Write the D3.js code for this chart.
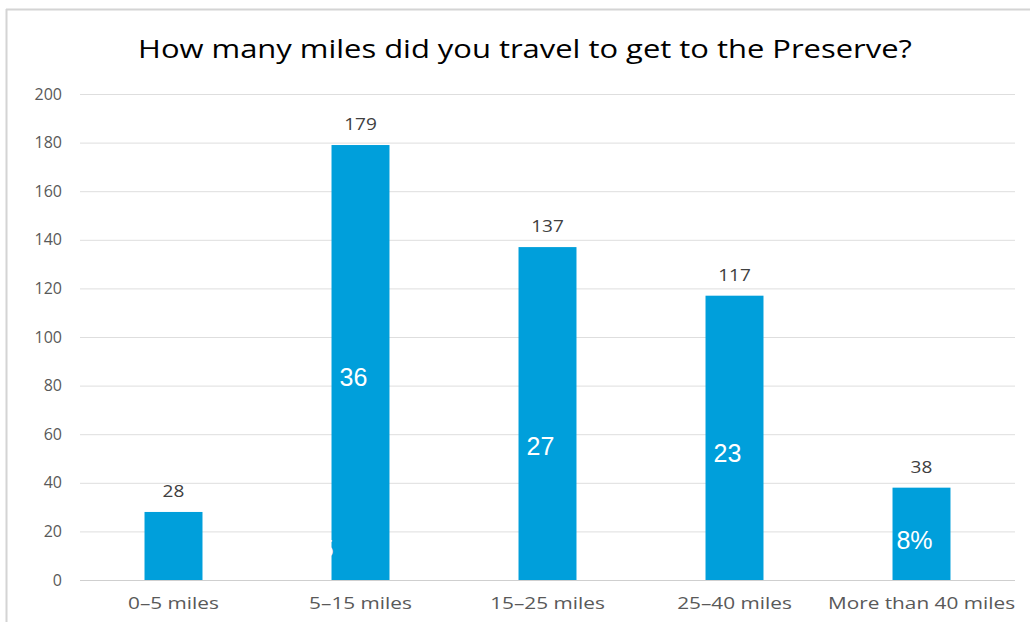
<!DOCTYPE html>
<html>
<head>
<meta charset="utf-8">
<script src="https://cdn.jsdelivr.net/npm/d3@7"></script>
<style>
  body { margin: 0; background: #fff; }
  svg { display: block; }
</style>
</head>
<body>
<svg id="chart" width="1030" height="627"></svg>
<script>
// Chart data
const categories = ['0–5 miles', '5–15 miles', '15–25 miles', '25–40 miles', 'More than 40 miles'];
const counts = [28, 179, 137, 117, 38];
// white labels drawn inside the bars, '' where none
const innerLabels = ['', '36', '27', '23', '8%'];
const innerValues = [0, 83.5, 55, 52, 16.5]; // y value where each inner label sits
const yTicks = [0, 20, 40, 60, 80, 100, 120, 140, 160, 180, 200];

const svg = d3.select('#chart');
const margin = { top: 94, right: 15, bottom: 47, left: 80 };
const width = +svg.attr('width') - margin.left - margin.right;
const height = +svg.attr('height') - margin.top - margin.bottom;

// Frame lines (top and left only, like the screenshot)
svg.append('line').attr('x1', 6).attr('x2', 1030).attr('y1', 9.5).attr('y2', 9.5)
    .attr('stroke', '#d4d4d4').attr('stroke-width', 2);
svg.append('line').attr('x1', 6.5).attr('x2', 6.5).attr('y1', 9).attr('y2', 622)
    .attr('stroke', '#d4d4d4').attr('stroke-width', 2);

const xScale = d3.scaleBand().domain(categories).range([0, width]).paddingInner(0.69).paddingOuter(0.345);
const yScale = d3.scaleLinear().domain([0, 200]).range([height, 0]);

const g = svg.append('g').attr('transform', `translate(${margin.left},${margin.top})`);

// Gridlines
g.append('g')
    .selectAll('line')
    .data(yTicks)
    .enter()
    .append('line')
    .attr('x1', 0)
    .attr('x2', width)
    .attr('y1', d => yScale(d) + 0.5)
    .attr('y2', d => yScale(d) + 0.5)
    .attr('stroke', d => d === 0 ? '#cfcfcf' : '#dedede')
    .attr('stroke-width', 1);

// Y axis labels
const yAxis = g.append('g')
    .call(d3.axisLeft(yScale).tickValues(yTicks).tickSize(0).tickPadding(18));
yAxis.select('.domain').remove();
yAxis.selectAll('text')
    .attr('fill', '#595959')
    .style('font-family', "'Open Sans', sans-serif")
    .style('font-size', '16px');

// X axis labels (stretched sideways like the reference)
const xAxis = g.append('g')
    .attr('transform', `translate(0,${height})`)
    .call(d3.axisBottom(xScale).tickSize(0).tickPadding(18));
xAxis.select('.domain').remove();
xAxis.selectAll('text')
    .attr('fill', '#595959')
    .attr('transform', 'scale(1.3,1)')
    .style('font-family', "'Open Sans', sans-serif")
    .style('font-size', '16px');

// Bars
g.selectAll('.bar')
    .data(counts)
    .enter()
    .append('rect')
    .attr('class', 'bar')
    .attr('x', (d, i) => xScale(categories[i]))
    .attr('y', d => yScale(d))
    .attr('width', xScale.bandwidth())
    .attr('height', d => height - yScale(d))
    .style('fill', '#009FDB');

// Value labels above bars
g.selectAll('.val')
    .data(counts)
    .enter()
    .append('g')
    .attr('class', 'val')
    .attr('transform', (d, i) => `translate(${xScale(categories[i]) + xScale.bandwidth() / 2},${yScale(d) - 15})`)
    .append('text')
    .attr('text-anchor', 'middle')
    .attr('transform', 'scale(1.12,1)')
    .attr('fill', '#404040')
    .style('font-family', "'Open Sans', sans-serif")
    .style('font-size', '17px')
    .text(d => d);

// White labels inside bars
g.selectAll('.inner')
    .data(innerLabels)
    .enter()
    .append('text')
    .attr('class', 'inner')
    .attr('x', (d, i) => xScale(categories[i]) + xScale.bandwidth() / 2 - 7)
    .attr('y', (d, i) => yScale(innerValues[i]))
    .attr('dy', '0.35em')
    .attr('text-anchor', 'middle')
    .attr('fill', '#ffffff')
    .style('font-family', "'Liberation Sans', Arial, sans-serif")
    .style('font-size', '25px')
    .text(d => d);

// small stray white label clipped at left edge of the second bar
g.append('text')
    .attr('x', xScale(categories[1]) + 2)
    .attr('y', yScale(13))
    .attr('dy', '0.35em')
    .attr('text-anchor', 'end')
    .attr('fill', '#ffffff')
    .style('font-family', "'Liberation Sans', Arial, sans-serif")
    .style('font-size', '24px')
    .text('5');

// Title
svg.append('g')
    .attr('transform', 'translate(525,58)')
    .append('text')
    .attr('text-anchor', 'middle')
    .attr('transform', 'scale(1.19,1)')
    .attr('fill', '#000')
    .style('font-family', "'Open Sans', sans-serif")
    .style('font-size', '26px')
    .text('How many miles did you travel to get to the Preserve?');
</script>
</body>
</html>
